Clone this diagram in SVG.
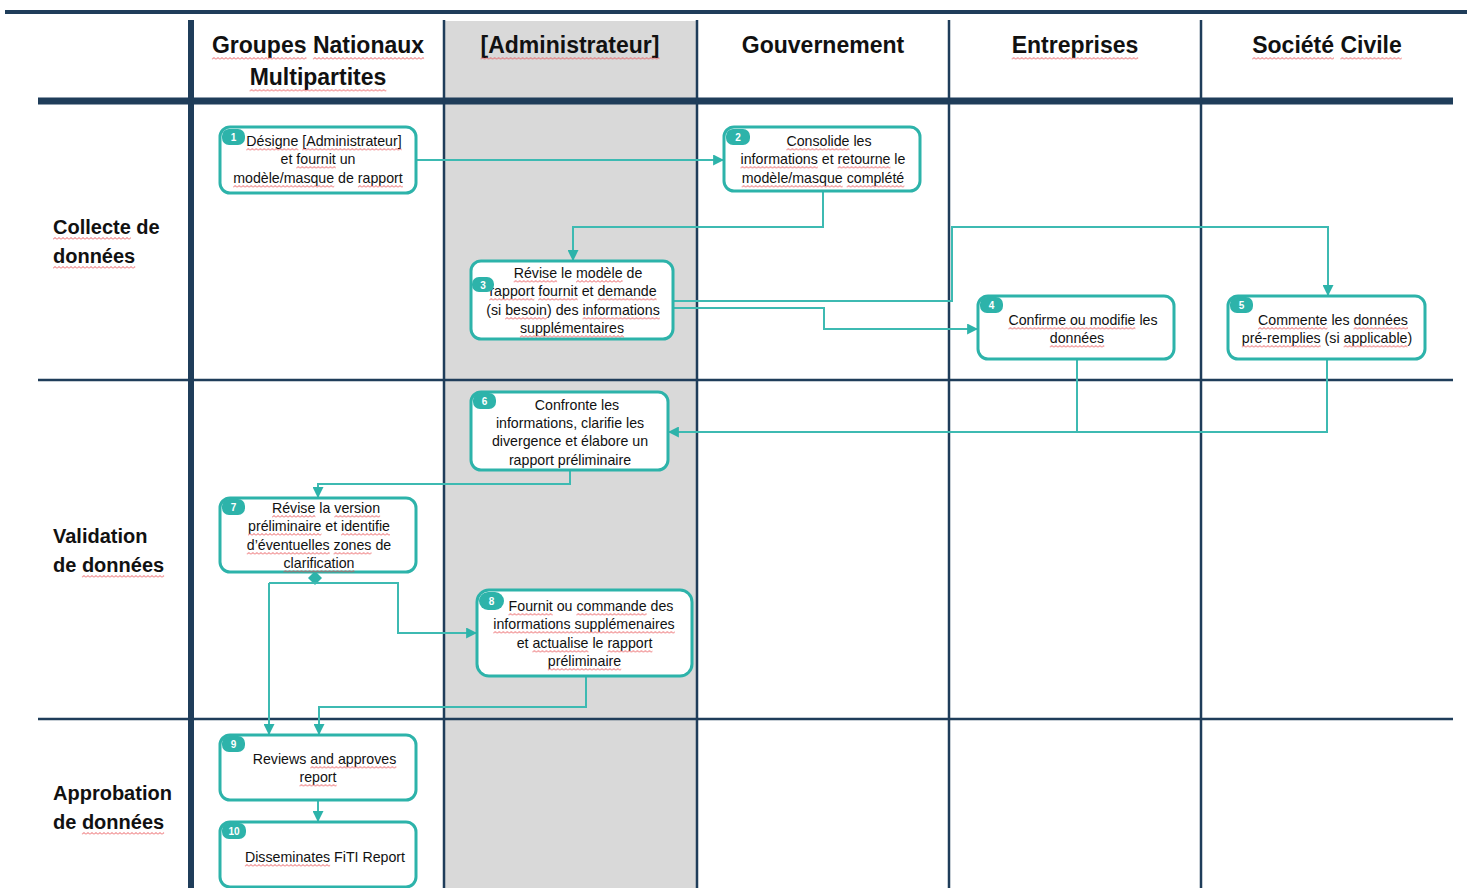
<svg xmlns="http://www.w3.org/2000/svg" width="1471" height="888" viewBox="0 0 1471 888">
  <style>
    .lane { fill: none; stroke: #1f3d5a; }
    .hdr { font-family: "Liberation Sans", Arial, sans-serif; font-weight: bold; font-size: 23px; fill: #111; text-anchor: middle; }
    .row { font-family: "Liberation Sans", Arial, sans-serif; font-weight: bold; font-size: 20px; fill: #111; }
    .box { fill: #fff; stroke: #2db3aa; stroke-width: 3; }
    .badge { fill: #2db3aa; }
    .num { font-family: "Liberation Sans", Arial, sans-serif; font-weight: bold; font-size: 10px; fill: #fff; text-anchor: middle; }
    .txt { font-family: "Liberation Sans", Arial, sans-serif; font-size: 14.2px; fill: #111; text-anchor: middle; }
    .sq { fill: url(#wavy); }
    .link { fill: none; stroke: #3dbab2; stroke-width: 2; }
  </style>
  <defs>
    <!-- red wavy proofing underline, tiled along x -->
    <pattern id="wavy" patternUnits="userSpaceOnUse" width="4" height="3">
      <path d="M0,2.5 L2,0.5 L4,2.5" fill="none" stroke="#e8474a" stroke-width="0.9"/>
    </pattern>
    <marker id="arrow" viewBox="0 0 10 10" refX="9" refY="5" markerWidth="11" markerHeight="11" markerUnits="userSpaceOnUse" orient="auto">
      <path d="M0,0 L10,5 L0,10 Z" fill="#2db3aa"/>
    </marker>
  </defs>

  <rect width="1471" height="888" fill="#fff"/>

  <!-- swimlane grid -->
  <g id="grid">
    <rect x="444" y="21" width="253" height="867" fill="#d9d9d9"/>
    <line class="lane" x1="5" y1="12" x2="1467" y2="12" stroke-width="4"/>
    <line class="lane" x1="38" y1="101" x2="1453" y2="101" stroke-width="7"/>
    <line class="lane" x1="38" y1="380" x2="1453" y2="380" stroke-width="2.5"/>
    <line class="lane" x1="38" y1="719" x2="1453" y2="719" stroke-width="2.5"/>
    <line class="lane" x1="191" y1="20" x2="191" y2="888" stroke-width="6"/>
    <line class="lane" x1="444" y1="20" x2="444" y2="888" stroke-width="2.5"/>
    <line class="lane" x1="697" y1="20" x2="697" y2="888" stroke-width="2.5"/>
    <line class="lane" x1="949" y1="20" x2="949" y2="888" stroke-width="2.5"/>
    <line class="lane" x1="1201" y1="20" x2="1201" y2="888" stroke-width="2.5"/>
  </g>

  <!-- column headers -->
  <g id="headers">
    <text class="hdr" x="318" y="53"><tspan>Groupes</tspan> <tspan>Nationaux</tspan></text>
    <text class="hdr" x="318" y="85"><tspan>Multipartites</tspan></text>
    <text class="hdr" x="570" y="53"><tspan>[Administrateur]</tspan></text>
    <text class="hdr" x="823" y="53">Gouvernement</text>
    <text class="hdr" x="1075" y="53"><tspan>Entreprises</tspan></text>
    <text class="hdr" x="1327" y="53"><tspan>Société</tspan> <tspan>Civile</tspan></text>
    <rect class="sq" transform="translate(211.9,57)" width="94.6" height="3"/>
    <rect class="sq" transform="translate(312.9,57)" width="111.2" height="3"/>
    <rect class="sq" transform="translate(249.6,89)" width="136.7" height="3"/>
    <rect class="sq" transform="translate(480.6,57)" width="178.9" height="3"/>
    <rect class="sq" transform="translate(1011.7,57)" width="126.5" height="3"/>
    <rect class="sq" transform="translate(1252.2,57)" width="81.8" height="3"/>
    <rect class="sq" transform="translate(1340.4,57)" width="61.4" height="3"/>
  </g>

  <!-- phase labels -->
  <g id="phases">
    <text class="row" x="53" y="234"><tspan>Collecte</tspan> de</text>
    <text class="row" x="53" y="263"><tspan>données</tspan></text>
    <text class="row" x="53" y="543">Validation</text>
    <text class="row" x="53" y="572">de <tspan>données</tspan></text>
    <text class="row" x="53" y="800">Approbation</text>
    <text class="row" x="53" y="829">de <tspan>données</tspan></text>
    <rect class="sq" transform="translate(53,237)" width="77.8" height="3"/>
    <rect class="sq" transform="translate(53,266)" width="82.2" height="3"/>
    <rect class="sq" transform="translate(81.9,575)" width="82.2" height="3"/>
    <rect class="sq" transform="translate(81.9,832)" width="82.2" height="3"/>
  </g>

  <!-- connectors -->
  <g id="connectors">
    <path class="link" d="M416,160 H723" marker-end="url(#arrow)"/>
    <path class="link" d="M823,191 V227 H573 V260" marker-end="url(#arrow)"/>
    <path class="link" d="M673,301 H952 V227 H1328 V295" marker-end="url(#arrow)"/>
    <path class="link" d="M669,308 H824 V329 H977" marker-end="url(#arrow)"/>
    <path class="link" d="M1077,359 V432 H669" marker-end="url(#arrow)"/>
    <path class="link" d="M1327,359 V432 H1077"/>
    <path class="link" d="M570,470 V484 H318 V497" marker-end="url(#arrow)"/>
    <path class="link" d="M315,572 V583"/>
    <path d="M315,571 L322,578 L315,585 L308,578 Z" fill="#2db3aa"/>
    <path class="link" d="M269,583 H398 V633 H476" marker-end="url(#arrow)"/>
    <path class="link" d="M269,583 V734" marker-end="url(#arrow)"/>
    <path class="link" d="M586,676 V707 H319 V734" marker-end="url(#arrow)"/>
    <path class="link" d="M318,800 V821" marker-end="url(#arrow)"/>
  </g>

  <g id="node1">
    <rect class="box" x="220" y="127" width="196" height="66" rx="10"/>
    <rect class="badge" x="222" y="129" width="23" height="16" rx="7"/>
    <text class="num" x="233.5" y="141">1</text>
    <text class="txt" x="324" y="146"><tspan>Désigne</tspan> <tspan>[Administrateur]</tspan></text>
    <text class="txt" x="318" y="164">et <tspan>fournit</tspan> un</text>
    <text class="txt" x="318" y="183"><tspan>modèle/masque</tspan> de <tspan>rapport</tspan></text>
    <rect class="sq" transform="translate(246.3,148)" width="52.1" height="3"/>
    <rect class="sq" transform="translate(302.3,148)" width="99.4" height="3"/>
    <rect class="sq" transform="translate(296.3,166)" width="39.5" height="3"/>
    <rect class="sq" transform="translate(233.2,185)" width="101" height="3"/>
    <rect class="sq" transform="translate(357.9,185)" width="45" height="3"/>
  </g>

  <g id="node2">
    <rect class="box" x="724" y="127" width="196" height="64" rx="10"/>
    <rect class="badge" x="726" y="129" width="24" height="16" rx="7"/>
    <text class="num" x="738" y="141">2</text>
    <text class="txt" x="829" y="146"><tspan>Consolide</tspan> les</text>
    <text class="txt" x="823" y="164"><tspan>informations</tspan> et <tspan>retourne</tspan> le</text>
    <text class="txt" x="823" y="183"><tspan>modèle/masque</tspan> <tspan>complété</tspan></text>
    <rect class="sq" transform="translate(786.4,148)" width="63.1" height="3"/>
    <rect class="sq" transform="translate(740.5,166)" width="77.3" height="3"/>
    <rect class="sq" transform="translate(837.6,166)" width="52.9" height="3"/>
    <rect class="sq" transform="translate(741.7,185)" width="101" height="3"/>
    <rect class="sq" transform="translate(846.7,185)" width="57.6" height="3"/>
  </g>

  <g id="node3">
    <rect class="box" x="471" y="261" width="202" height="78" rx="10"/>
    <text class="txt" x="578" y="278"><tspan>Révise</tspan> le <tspan>modèle</tspan> de</text>
    <text class="txt" x="573" y="296"><tspan>rapport</tspan> <tspan>fournit</tspan> et <tspan>demande</tspan></text>
    <text class="txt" x="573" y="315">(si <tspan>besoin</tspan>) des <tspan>informations</tspan></text>
    <text class="txt" x="572" y="333"><tspan>supplémentaires</tspan></text>
    <rect class="sq" transform="translate(513.7,280)" width="43.4" height="3"/>
    <rect class="sq" transform="translate(576,280)" width="46.6" height="3"/>
    <rect class="sq" transform="translate(489.3,298)" width="45" height="3"/>
    <rect class="sq" transform="translate(538.2,298)" width="39.5" height="3"/>
    <rect class="sq" transform="translate(597.4,298)" width="59.2" height="3"/>
    <rect class="sq" transform="translate(505.1,317)" width="41.8" height="3"/>
    <rect class="sq" transform="translate(582.5,317)" width="77.3" height="3"/>
    <rect class="sq" transform="translate(519.9,335)" width="104.2" height="3"/>
    <rect class="badge" x="472" y="277" width="22" height="15" rx="7"/>
    <text class="num" x="483" y="288.5">3</text>
  </g>

  <g id="node4">
    <rect class="box" x="978" y="296" width="196" height="63" rx="10"/>
    <rect class="badge" x="980" y="297" width="23" height="16" rx="7"/>
    <text class="num" x="991.5" y="309">4</text>
    <text class="txt" x="1083" y="325"><tspan>Confirme ou modifie</tspan> les</text>
    <text class="txt" x="1077" y="343"><tspan>données</tspan></text>
    <rect class="sq" transform="translate(1008.4,327)" width="127" height="3"/>
    <rect class="sq" transform="translate(1049.8,345)" width="54.5" height="3"/>
  </g>

  <g id="node5">
    <rect class="box" x="1228" y="296" width="197" height="63" rx="10"/>
    <rect class="badge" x="1230" y="297" width="23" height="16" rx="7"/>
    <text class="num" x="1241.5" y="309">5</text>
    <text class="txt" x="1333" y="325"><tspan>Commente</tspan> les <tspan>données</tspan></text>
    <text class="txt" x="1327" y="343"><tspan>pré-remplies</tspan> (si <tspan>applicable</tspan>)</text>
    <rect class="sq" transform="translate(1258,327)" width="69.4" height="3"/>
    <rect class="sq" transform="translate(1353.5,327)" width="54.5" height="3"/>
    <rect class="sq" transform="translate(1241.8,345)" width="78.9" height="3"/>
    <rect class="sq" transform="translate(1343.6,345)" width="63.9" height="3"/>
  </g>

  <g id="node6">
    <rect class="box" x="471" y="392" width="197" height="78" rx="10"/>
    <rect class="badge" x="473" y="393" width="23" height="16" rx="7"/>
    <text class="num" x="484.5" y="405">6</text>
    <text class="txt" x="577" y="410">Confronte les</text>
    <text class="txt" x="570" y="428">informations, clarifie les</text>
    <text class="txt" x="570" y="446">divergence et élabore un</text>
    <text class="txt" x="570" y="465">rapport préliminaire</text>
  </g>

  <g id="node7">
    <rect class="box" x="220" y="498" width="196" height="74" rx="10"/>
    <rect class="badge" x="222" y="499" width="23" height="16" rx="7"/>
    <text class="num" x="233.5" y="511">7</text>
    <text class="txt" x="326" y="513"><tspan>Révise</tspan> la <tspan>version</tspan></text>
    <text class="txt" x="319" y="531"><tspan>préliminaire</tspan> et <tspan>identifie</tspan></text>
    <text class="txt" x="319" y="550"><tspan>d’éventuelles</tspan> <tspan>zones</tspan> de</text>
    <text class="txt" x="319" y="568"><tspan>clarification</tspan></text>
    <rect class="sq" transform="translate(272,515)" width="43.4" height="3"/>
    <rect class="sq" transform="translate(334.3,515)" width="45.8" height="3"/>
    <rect class="sq" transform="translate(248,533)" width="73.4" height="3"/>
    <rect class="sq" transform="translate(341.1,533)" width="48.9" height="3"/>
    <rect class="sq" transform="translate(246.8,552)" width="82.9" height="3"/>
    <rect class="sq" transform="translate(333.6,552)" width="37.9" height="3"/>
    <rect class="sq" transform="translate(283.5,570)" width="71" height="3"/>
  </g>

  <g id="node8">
    <rect class="box" x="477" y="590" width="215" height="86" rx="12"/>
    <rect class="badge" x="479" y="592" width="25" height="18" rx="9"/>
    <text class="num" x="491.5" y="605">8</text>
    <text class="txt" x="591" y="611"><tspan>Fournit</tspan> ou <tspan>commande</tspan> des</text>
    <text class="txt" x="584" y="629"><tspan>informations</tspan> <tspan>supplémenaires</tspan></text>
    <text class="txt" x="584.5" y="648">et <tspan>actualise</tspan> le <tspan>rapport</tspan></text>
    <text class="txt" x="584.5" y="666"><tspan>préliminaire</tspan></text>
    <rect class="sq" transform="translate(508.5,613)" width="44.2" height="3"/>
    <rect class="sq" transform="translate(576.4,613)" width="70.2" height="3"/>
    <rect class="sq" transform="translate(493.3,631)" width="181.5" height="3"/>
    <rect class="sq" transform="translate(532.4,650)" width="56" height="3"/>
    <rect class="sq" transform="translate(607.4,650)" width="45" height="3"/>
    <rect class="sq" transform="translate(547.8,668)" width="73.4" height="3"/>
  </g>

  <g id="node9">
    <rect class="box" x="220" y="735" width="196" height="65" rx="10"/>
    <rect class="badge" x="222" y="736" width="23" height="16" rx="7"/>
    <text class="num" x="233.5" y="748">9</text>
    <text class="txt" x="324.5" y="764">Reviews <tspan>and approves</tspan></text>
    <text class="txt" x="318" y="782"><tspan>report</tspan></text>
    <rect class="sq" transform="translate(310.3,766)" width="86" height="3"/>
    <rect class="sq" transform="translate(299.5,784)" width="37.1" height="3"/>
  </g>

  <g id="node10">
    <rect class="box" x="220" y="822" width="196" height="65" rx="10"/>
    <rect class="badge" x="222" y="823" width="24" height="16" rx="7"/>
    <text class="num" x="234" y="835">10</text>
    <text class="txt" x="325" y="862"><tspan>Disseminates</tspan> FiTI Report</text>
    <rect class="sq" transform="translate(244.9,864)" width="85.2" height="3"/>
  </g>
</svg>
